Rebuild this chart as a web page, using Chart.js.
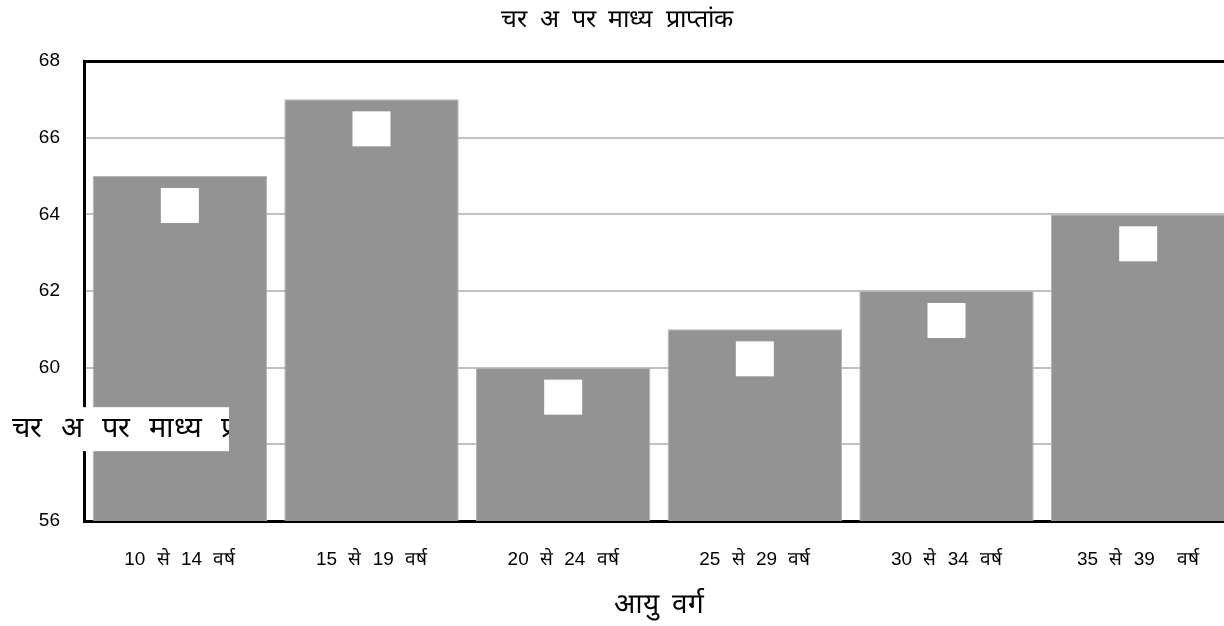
<!DOCTYPE html>
<html>
<head>
<meta charset="utf-8">
<script src="https://cdn.jsdelivr.net/npm/chart.js@4.4.1/dist/chart.umd.min.js"></script>
<style>
    html, body { margin: 0; padding: 0; background: #fff; overflow: hidden; }
    #wrap { position: relative; width: 1234px; height: 626px; }
</style>
</head>
<body>
<div id="wrap"><canvas id="chart"></canvas></div>
<script>
    // आयु वर्ग (x) और माध्य प्राप्तांक (y)
    const ageGroups = ['10 से 14 वर्ष', '15 से 19 वर्ष', '20 से 24 वर्ष', '25 से 29 वर्ष', '30 से 34 वर्ष', '35 से 39  वर्ष'];
    const meanScores = [65, 67, 60, 61, 62, 64];
    const yTicks = [56, 58, 60, 62, 64, 66, 68];

    const chartTitle = 'चर अ पर माध्य प्राप्तांक';
    const xTitle = 'आयु वर्ग';
    const yTitle = 'चर अ पर माध्य प्राप्तांक';

    const FONT = "Arial, 'Liberation Sans', sans-serif";

    // शब्दों के बीच चौड़ी जगह, जैसा मूल चित्र में
    const wideWords = {
        id: 'wideWords',
        beforeDraw(chart) { chart.ctx.wordSpacing = '6px'; }
    };

    // खाली सफ़ेद लेबल-बॉक्स हर बार के ऊपर
    const labelBoxes = {
        id: 'labelBoxes',
        afterDatasetsDraw(chart) {
            const { ctx } = chart;
            chart.getDatasetMeta(0).data.forEach(bar => {
                ctx.save();
                ctx.fillStyle = '#fff';
                ctx.fillRect(bar.x - 19, bar.y + 12, 38, 35);
                ctx.restore();
            });
        }
    };

    // y-अक्ष शीर्षक (कटा हुआ, सफ़ेद पृष्ठभूमि पर)
    const yTitleBox = {
        id: 'yTitleBox',
        afterDraw(chart) {
            const { ctx } = chart;
            const y = chart.scales.y;
            const cy = (y.getPixelForValue(58) + y.getPixelForValue(59)) / 2 + 4;
            ctx.save();
            ctx.fillStyle = '#fff';
            ctx.fillRect(0, cy - 22, 229, 44);
            ctx.beginPath();
            ctx.rect(0, cy - 22, 229, 44);
            ctx.clip();
            ctx.fillStyle = '#000';
            ctx.font = '29px ' + FONT;
            ctx.wordSpacing = '11px';
            ctx.textBaseline = 'middle';
            ctx.fillText(yTitle, 12, cy);
            ctx.restore();
        }
    };

    new Chart(document.getElementById('chart'), {
        type: 'bar',
        data: {
            labels: ageGroups,
            datasets: [{
                data: meanScores,
                backgroundColor: '#939393',
                borderColor: '#b4b4b4',
                borderWidth: 1,
                categoryPercentage: 1,
                barPercentage: 0.91
            }]
        },
        options: {
            responsive: true,
            maintainAspectRatio: false,
            animation: false,
            layout: { padding: 0 },
            plugins: {
                legend: { display: false },
                tooltip: { enabled: false },
                title: {
                    display: true,
                    text: chartTitle,
                    color: '#000',
                    font: { family: FONT, size: 25, weight: 'normal' },
                    padding: { top: 5, bottom: 26 }
                }
            },
            scales: {
                x: {
                    grid: { display: false },
                    border: { display: true, color: '#000', width: 3 },
                    ticks: {
                        color: '#000',
                        font: { family: FONT, size: 19 },
                        padding: 19,
                        maxRotation: 0,
                        autoSkip: false
                    },
                    title: {
                        display: true,
                        text: xTitle,
                        color: '#000',
                        font: { family: FONT, size: 28 },
                        padding: { top: 14, bottom: 4 }
                    },
                    afterFit(scale) { scale.height = 105; }
                },
                y: {
                    min: 56,
                    max: 68,
                    afterBuildTicks(scale) { scale.ticks = yTicks.map(v => ({ value: v })); },
                    grid: {
                        drawTicks: false,
                        color: c => (c.tick && c.tick.value === 68) ? '#000' : '#c0c0c0',
                        lineWidth: c => (c.tick && c.tick.value === 68) ? 3 : 2
                    },
                    border: { display: true, color: '#000', width: 3 },
                    ticks: {
                        color: '#000',
                        font: { family: FONT, size: 19 },
                        padding: 24
                    },
                    afterFit(scale) { scale.width = 84; }
                }
            }
        },
        plugins: [wideWords, labelBoxes, yTitleBox]
    });
</script>
</body>
</html>
